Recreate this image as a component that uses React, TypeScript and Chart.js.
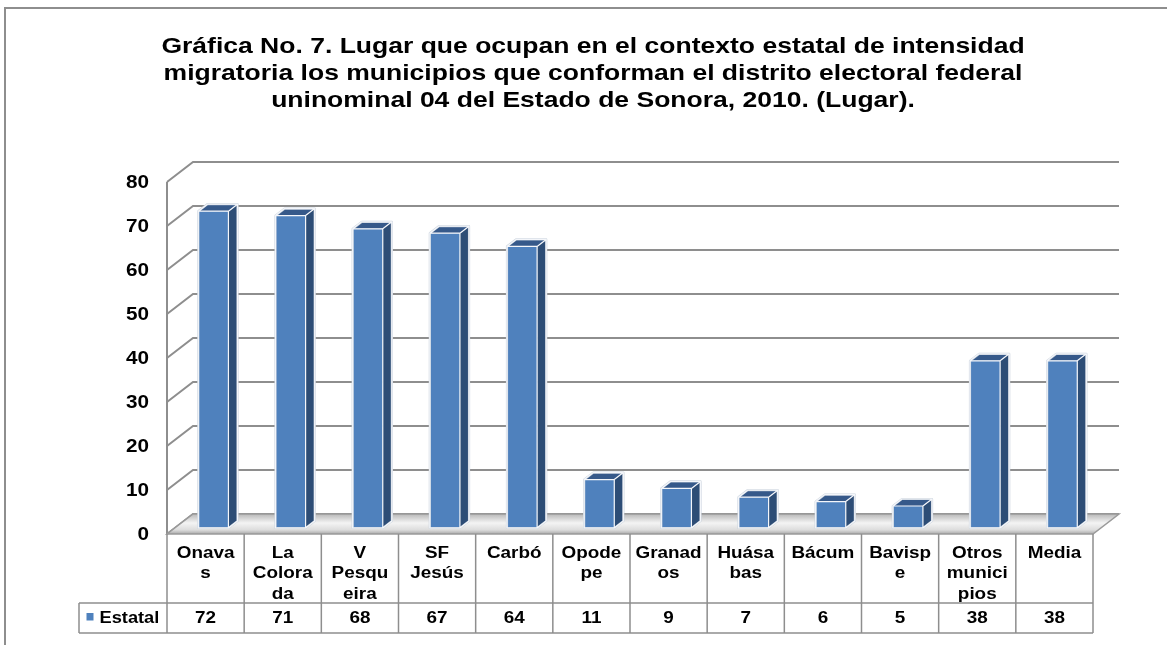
import { useEffect, useRef } from 'react';
import { Chart, registerables } from 'chart.js';

Chart.register(...registerables);

const titleLines = [
  'Gráfica No. 7. Lugar que ocupan en el contexto estatal de intensidad',
  'migratoria los municipios que conforman el distrito electoral federal',
  'uninominal 04 del Estado de Sonora, 2010. (Lugar).',
];
const categories = [
  'Onavas', 'La Colorada', 'V Pesqueira', 'SF Jesús', 'Carbó', 'Opodepe',
  'Granados', 'Huásabas', 'Bácum', 'Bavispe', 'Otros municipios', 'Media',
];
const categoryLines = [
  ['Onava', 's'], ['La', 'Colora', 'da'], ['V', 'Pesqu', 'eira'], ['SF', 'Jesús'],
  ['Carbó'], ['Opode', 'pe'], ['Granad', 'os'], ['Huása', 'bas'], ['Bácum'],
  ['Bavisp', 'e'], ['Otros', 'munici', 'pios'], ['Media'],
];
const seriesName = 'Estatal';
const estatal = [72, 71, 68, 67, 64, 11, 9, 7, 6, 5, 38, 38];
const yMin = 0;
const yMax = 80;
const yStep = 10;

const FONT = '"Liberation Sans", Arial, Helvetica, sans-serif';
const GRID = '#8e8e8e';
const SX = 1.18; // horizontal text stretch of the original picture
const DX = 26;
const DY = -20;
const BAR_FRONT = 0.3;
const BAR_BACK = 0.65;
const ROW_TOP = 603;
const ROW_BOTTOM = 633;
const LEGEND_LEFT = 79;

function stretchedText(ctx: CanvasRenderingContext2D, text: string, x: number, y: number, align: CanvasTextAlign, sx = SX) {
  ctx.save();
  ctx.translate(x, y);
  ctx.scale(sx, 1);
  ctx.textAlign = align;
  ctx.fillText(text, 0, 0);
  ctx.restore();
}

const threeDPlugin = {
  id: 'threeD',
  beforeDraw(chart: any) {
    const { ctx, width, height, chartArea: a } = chart;
    ctx.save();
    ctx.strokeStyle = GRID;
    ctx.lineWidth = 2;
    ctx.beginPath();
    ctx.moveTo(5, height + 2);
    ctx.lineTo(5, 8);
    ctx.lineTo(width + 2, 8);
    ctx.stroke();
    // title
    ctx.fillStyle = '#000';
    ctx.font = `bold 22px ${FONT}`;
    ctx.textBaseline = 'alphabetic';
    const cx = 593;
    titleLines.forEach((line, i) => {
      stretchedText(ctx, line, cx, 52.5 + i * 27.3, 'center', 1.205);
    });
    // y tick labels
    const y = chart.scales.y;
    ctx.font = `bold 18px ${FONT}`;
    ctx.textBaseline = 'middle';
    y.ticks.forEach((t: any) => {
      stretchedText(ctx, String(t.value), a.left - 18, y.getPixelForValue(t.value) + 1, 'right', 1.15);
    });
    ctx.restore();
  },
  beforeDatasetsDraw(chart: any) {
    const { ctx, chartArea: a, scales } = chart;
    const y = scales.y;
    ctx.save();
    ctx.strokeStyle = GRID;
    ctx.lineWidth = 2;
    ctx.beginPath();
    ctx.moveTo(a.left, a.bottom);
    ctx.lineTo(a.left, y.getPixelForValue(yMax));
    ctx.stroke();
    y.ticks.forEach((t: any) => {
      const py = y.getPixelForValue(t.value);
      ctx.beginPath();
      ctx.moveTo(a.left, py);
      ctx.lineTo(a.left + DX, py + DY);
      ctx.lineTo(a.right + DX, py + DY);
      ctx.stroke();
    });
    // floor
    const y0 = y.getPixelForValue(0);
    const g = ctx.createLinearGradient(0, y0 + DY, 0, y0);
    g.addColorStop(0, '#b8b8b8');
    g.addColorStop(0.45, '#f4f4f4');
    g.addColorStop(0.8, '#dcdcdc');
    g.addColorStop(1, '#a9a9a9');
    ctx.beginPath();
    ctx.moveTo(a.left, y0);
    ctx.lineTo(a.right, y0);
    ctx.lineTo(a.right + DX, y0 + DY);
    ctx.lineTo(a.left + DX, y0 + DY);
    ctx.closePath();
    ctx.fillStyle = g;
    ctx.fill();
    ctx.lineWidth = 1.5;
    ctx.strokeStyle = '#9a9a9a';
    ctx.stroke();
    ctx.restore();
  },
  afterDatasetsDraw(chart: any) {
    const { ctx } = chart;
    const meta = chart.getDatasetMeta(0);
    const bdx = (BAR_BACK - BAR_FRONT) * DX;
    const bdy = (BAR_BACK - BAR_FRONT) * DY;
    ctx.save();
    ctx.lineJoin = 'round';
    meta.data.forEach((bar: any) => {
      const { x, y, base, width } = bar.getProps(['x', 'y', 'base', 'width'], true);
      const l = x - width / 2 + BAR_FRONT * DX;
      const r = x + width / 2 + BAR_FRONT * DX;
      const t = y + BAR_FRONT * DY;
      const b = base + BAR_FRONT * DY;
      const faces: [number, number][][] = [
        [[r, t], [r + bdx, t + bdy], [r + bdx, b + bdy], [r, b]],
        [[l, t], [r, t], [r + bdx, t + bdy], [l + bdx, t + bdy]],
        [[l, t], [r, t], [r, b], [l, b]],
      ];
      const fills = ['#2d4d76', '#36598a', '#4f81bd'];
      faces.forEach((f, i) => {
        ctx.beginPath();
        ctx.moveTo(f[0][0], f[0][1]);
        for (let k = 1; k < f.length; k++) ctx.lineTo(f[k][0], f[k][1]);
        ctx.closePath();
        ctx.fillStyle = fills[i];
        ctx.fill();
      });
      ctx.strokeStyle = 'rgba(200,208,218,0.9)';
      ctx.lineWidth = 2.2;
      ctx.beginPath();
      ctx.moveTo(l, b);
      ctx.lineTo(l, t);
      ctx.lineTo(l + bdx, t + bdy);
      ctx.lineTo(r + bdx, t + bdy);
      ctx.lineTo(r + bdx, b + bdy);
      ctx.lineTo(r, b);
      ctx.closePath();
      ctx.stroke();
      ctx.strokeStyle = '#f4f6fa';
      ctx.lineWidth = 1.2;
      ctx.beginPath();
      ctx.moveTo(l, b); ctx.lineTo(l, t); ctx.lineTo(r, t); ctx.lineTo(r, b); ctx.closePath();
      ctx.moveTo(r, t); ctx.lineTo(r + bdx, t + bdy);
      ctx.moveTo(l, t); ctx.lineTo(l + bdx, t + bdy); ctx.lineTo(r + bdx, t + bdy); ctx.lineTo(r + bdx, b + bdy); ctx.lineTo(r, b);
      ctx.stroke();
    });
    ctx.restore();
  },
  afterDraw(chart: any) {
    const { ctx, chartArea: a, scales } = chart;
    const xs = scales.x;
    const n = categories.length;
    const colW = (a.right - a.left) / n;
    ctx.save();
    ctx.strokeStyle = GRID;
    ctx.lineWidth = 1.5;
    ctx.beginPath();
    for (let i = 0; i <= n; i++) {
      const px = a.left + i * colW;
      ctx.moveTo(px, a.bottom);
      ctx.lineTo(px, ROW_BOTTOM);
    }
    ctx.moveTo(LEGEND_LEFT, ROW_TOP);
    ctx.lineTo(a.right, ROW_TOP);
    ctx.moveTo(LEGEND_LEFT, ROW_BOTTOM);
    ctx.lineTo(a.right, ROW_BOTTOM);
    ctx.moveTo(LEGEND_LEFT, ROW_TOP);
    ctx.lineTo(LEGEND_LEFT, ROW_BOTTOM);
    ctx.stroke();

    ctx.fillStyle = '#000';
    ctx.font = `bold 16px ${FONT}`;
    ctx.textBaseline = 'alphabetic';
    categoryLines.forEach((lines, i) => {
      const cx = xs.getPixelForValue(i);
      lines.forEach((line, k) => {
        stretchedText(ctx, line, cx, a.bottom + 23.5 + k * 20.5, 'center');
      });
    });

    const base = ROW_BOTTOM - 9.7;
    ctx.fillStyle = '#4f81bd';
    ctx.fillRect(86.5, 613, 7, 7.5);
    ctx.fillStyle = '#000';
    stretchedText(ctx, seriesName, 99.5, base, 'left', 1.14);
    estatal.forEach((v, i) => {
      stretchedText(ctx, String(v), xs.getPixelForValue(i), base, 'center');
    });
    ctx.restore();
  },
};

export default function App() {
  const ref = useRef<HTMLCanvasElement>(null);
  useEffect(() => {
    if (!ref.current) return;
    const chart = new Chart(ref.current, {
      type: 'bar',
      data: {
        labels: categories,
        datasets: [
          {
            label: seriesName,
            data: estatal,
            backgroundColor: 'rgba(0,0,0,0)',
            borderWidth: 0,
            categoryPercentage: 1,
            barPercentage: 0.39,
          },
        ],
      },
      plugins: [threeDPlugin],
      options: {
        responsive: false,
        animation: false,
        layout: { padding: { left: 167, right: 74, top: 182, bottom: 111 } },
        plugins: {
          legend: { display: false },
          tooltip: { enabled: false },
          title: { display: false },
        },
        scales: {
          x: { display: false },
          y: {
            display: false,
            min: yMin,
            max: yMax,
            ticks: { stepSize: yStep },
          },
        },
      },
    });
    return () => chart.destroy();
  }, []);
  return (
    <div style={{ position: 'fixed', left: 0, top: 0, width: 1167, height: 645, background: '#fff' }}>
      <canvas ref={ref} width={1167} height={645} style={{ display: 'block' }} />
    </div>
  );
}
